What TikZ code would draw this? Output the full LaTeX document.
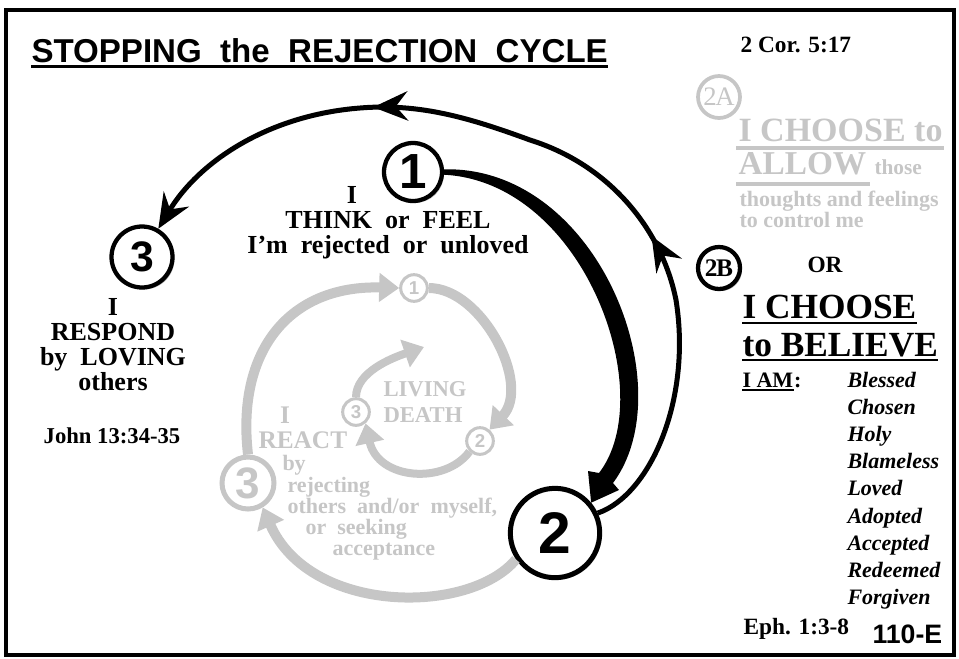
\documentclass[tikz,border=0pt]{standalone}
\usepackage{fontspec}
\setmainfont{Liberation Serif}
\setsansfont{Liberation Sans}
\usepackage{tikz}
\usetikzlibrary{arrows.meta,decorations.markings,shadows,calc}
\tikzset{every picture/.style={line width=0.75pt}}
\definecolor{paleink}{RGB}{198,198,198}
\definecolor{shadeink}{RGB}{185,185,185}
\tikzset{
  wing/.tip={Stealth[length=26pt,width=22pt,inset=9pt]},
  greytip/.tip={Triangle[length=15pt,width=21pt]},
  stepnum/.style={circle, draw, fill=white, inner sep=0pt,
    drop shadow={shadow xshift=1.5pt, shadow yshift=-1.5pt, fill=shadeink, opacity=1}},
  greynum/.style={circle, draw=paleink, fill=white, text=paleink, inner sep=0pt},
  greyflow/.style={draw=paleink, line width=7.5pt, -greytip},
  blackflow/.style={draw=black, line width=3.75pt, -wing},
  bodytext/.style={inner sep=0pt, font=\bfseries\fontsize{#1}{#1}\selectfont},
  greytext/.style={inner sep=0pt, text=paleink, font=\bfseries\fontsize{#1}{#1}\selectfont},
  listitem/.style={inner sep=0pt, anchor=base west, font=\bfseries\itshape\fontsize{16.5pt}{16.5pt}\selectfont},
}

\begin{document}
\begin{tikzpicture}[x=0.75pt,y=0.75pt,yscale=-1,xscale=1]
\useasboundingbox (0,0) rectangle (959,658);
\draw [line width=3pt] (6,10) rectangle (954,655);

% heading and verses
\node (title) [anchor=base west, inner sep=0pt, font=\sffamily\bfseries\fontsize{24.8pt}{24.8pt}\selectfont] at (31,62) {STOPPING\ \ the\ \ REJECTION\ \ CYCLE};
\draw [line width=1.8pt] ($(title.base west)+(0,4.5)$) -- ($(title.base east)+(0,4.5)$);
\node (cor) [bodytext=17.5pt, anchor=base west] at (740,52) {2 Cor. 5:17};

% choice 2A
\node (twoA) [greynum, line width=2.8pt, minimum size=31.5pt, font=\fontsize{20pt}{20pt}\selectfont] at (719,97) {2\kern-1ptA};
\node (allowA) [greytext=25.5pt, anchor=base west] at (738,141) {I CHOOSE to};
\draw [paleink, line width=3pt] ($(allowA.base west)+(-2,7)$) -- ($(allowA.base east)+(1,7)$);
\node (allowB) [greytext=25pt, anchor=base west] at (738,174) {ALLOW};
\draw [paleink, line width=3pt] ($(allowB.base west)+(-2,10)$) -- ($(allowB.base east)+(3,10)$);
\node (those) [greytext=16pt, anchor=base west] at (874,174) {those};
\node (allowC) [greytext=16.5pt, anchor=base west] at (739,206) {thoughts and feelings};
\node (allowD) [greytext=16.5pt, anchor=base west] at (739,227) {to control me};

% choice 2B
\node (twoB) [stepnum, line width=3.2pt, minimum size=31.5pt, font=\bfseries\fontsize{19pt}{19pt}\selectfont] at (719,268) {2\kern-1ptB};
\node (orword) [bodytext=17.5pt, anchor=base west] at (807,272) {OR};
\node (believeA) [bodytext=26.5pt, anchor=base west] at (742,318) {I CHOOSE};
\draw [line width=1.5pt] ($(believeA.base west)+(0,5)$) -- ($(believeA.base east)+(0,5)$);
\node (believeB) [bodytext=26.5pt, anchor=base west] at (742,356) {to BELIEVE};
\draw [line width=1.5pt] ($(believeB.base west)+(0,4)$) -- ($(believeB.base east)+(0,4)$);
\node (iam) [bodytext=16.5pt, anchor=base west] at (742,387) {I AM};
\draw [line width=1.2pt] ($(iam.base west)+(0,3)$) -- ($(iam.base east)+(0,3)$);
\node (colon) [bodytext=16.5pt, anchor=base west] at (iam.base east) {:};
\foreach \word [count=\k from 0] in {Blessed,Chosen,Holy,Blameless,Loved,Adopted,Accepted,Redeemed,Forgiven}
  \node (quality\k) [listitem] at (847,{387+27.2*\k}) {\word};
\node (eph) [bodytext=17.5pt, anchor=base west] at (743,634) {Eph. 1:3-8};
\node (code) [anchor=base west, inner sep=0pt, font=\sffamily\bfseries\fontsize{20pt}{20pt}\selectfont] at (872,643) {110-E};

% step 3, loving
\node (three) [stepnum, line width=3.2pt, minimum size=45.75pt, font=\sffamily\bfseries\fontsize{32pt}{32pt}\selectfont] at (142,257) {3};
\node (respond) [anchor=north, align=center, inner sep=0pt, font=\bfseries\fontsize{19.5pt}{18.75pt}\selectfont] at (113,298) {I\\RESPOND\\by\ \ LOVING\\others};
\node (john) [bodytext=17pt, anchor=base] at (112,443) {John 13:34-35};

% step 1
\node (one) [stepnum, line width=3.2pt, minimum size=43.5pt, font=\sffamily\bfseries\fontsize{37pt}{37pt}\selectfont] at (413,172) {1};
\node (thinkA) [bodytext=19.5pt, anchor=base] at (352,203) {I};
\node (thinkB) [bodytext=19.5pt, anchor=base] at (388,228) {THINK\ \ or\ \ FEEL};
\node (thinkC) [bodytext=19.5pt, anchor=base] at (388,253) {I’m\ \ rejected\ \ or\ \ unloved};

% step 2
\node (two) [stepnum, line width=3.75pt, minimum size=67pt, font=\sffamily\bfseries\fontsize{44pt}{44pt}\selectfont] at (555,533) {2};

% old cycle in grey
\node (greyThree) [greynum, line width=3.75pt, minimum size=39pt, font=\sffamily\bfseries\fontsize{33pt}{33pt}\selectfont] at (248,483) {3};
\node (greyOne) [greynum, line width=2.25pt, minimum size=20pt, font=\sffamily\bfseries\fontsize{14pt}{14pt}\selectfont] at (414,288) {1};
\node (greyTwo) [greynum, line width=2.25pt, minimum size=20pt, font=\sffamily\bfseries\fontsize{14pt}{14pt}\selectfont] at (480,441) {2};
\node (deathThree) [greynum, line width=2.25pt, minimum size=20pt, font=\sffamily\bfseries\fontsize{14pt}{14pt}\selectfont] at (356,412) {3};
\node (living) [greytext=17pt, anchor=base west] at (383,396) {LIVING};
\node (death) [greytext=17pt, anchor=base west] at (383,422) {DEATH};
\node (reactA) [greytext=19pt, anchor=base] at (285,423) {I};
\node (reactB) [greytext=19pt, anchor=base west] at (258,448) {REACT};
\node (reactC) [greytext=16.5pt, anchor=base west] at (282,470) {by};
\node (reactD) [greytext=16.5pt, anchor=base west] at (287,492) {rejecting};
\node (reactE) [greytext=16.5pt, anchor=base west] at (287,513) {others\ \ and/or\ \ myself,};
\node (reactF) [greytext=16.5pt, anchor=base west] at (305,534) {or\ \ seeking};
\node (reactG) [greytext=16.5pt, anchor=base west] at (332,555) {acceptance};

\draw [greyflow] (greyThree.north) .. controls (236,350) and (290,285) .. (greyOne.west);
\draw [greyflow] (greyOne.east) .. controls (482,288) and (532,385) .. (greyTwo.50);
\draw [greyflow, line width=6pt] (greyTwo.225) .. controls (445,485) and (378,480) .. (deathThree.-50);
\coordinate (deathTip) at (424,347);
\draw [greyflow, line width=6pt] (deathThree.north) .. controls (356,372) and (392,358) .. (deathTip);
\draw [greyflow] (two.214) .. controls (470,615) and (310,615) .. (greyThree.-59);

% new way in black
\fill (one.5) .. controls (598,166) and (684,388) .. (613,483) -- (619,490) -- (two.40) -- (588,471) -- (599,473) .. controls (660,394) and (584,182) .. (one.-5) -- cycle;
\draw [blackflow, postaction={decorate}, decoration={markings, mark=at position 0.35 with {\arrow{wing}}, mark=at position 0.71 with {\arrow{wing}}}] (two.25) .. controls (650,495) and (692,400) .. (676,300) .. controls (662,230) and (610,165) .. (530,140) .. controls (470,118) and (420,103) .. (360,108) .. controls (270,115) and (200,160) .. (three.60);
\end{tikzpicture}
\end{document}
